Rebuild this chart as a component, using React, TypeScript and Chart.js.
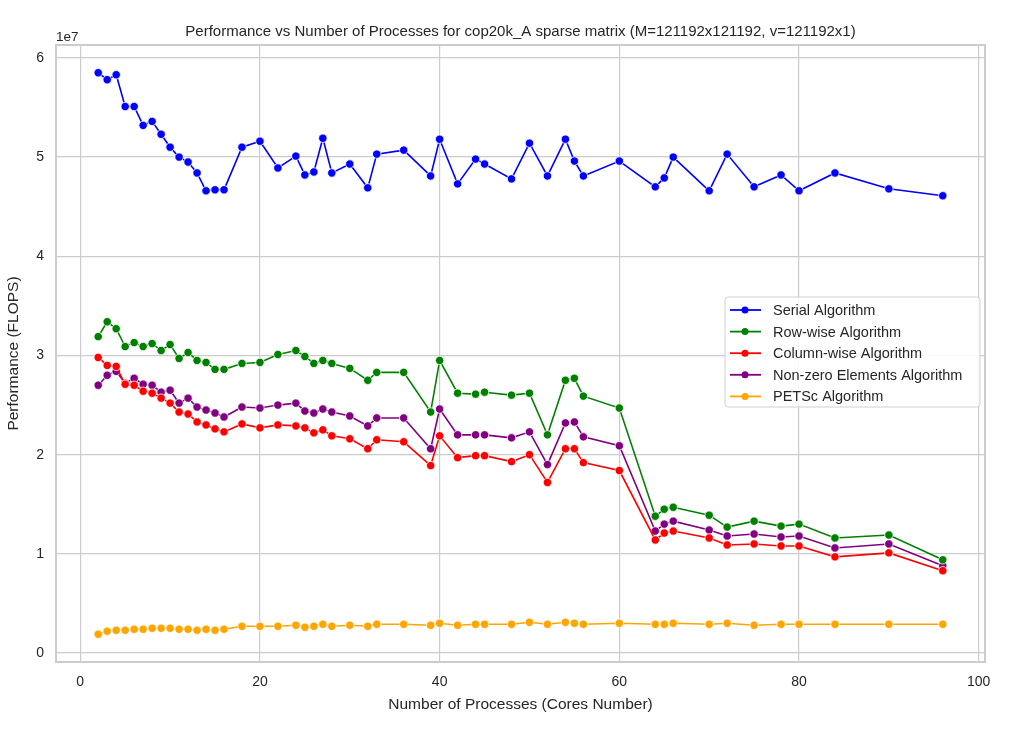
import { useEffect, useRef } from 'react'
import Chart from 'chart.js/auto'

const processes = [2, 3, 4, 5, 6, 7, 8, 9, 10, 11, 12, 13, 14, 15, 16, 18, 20, 22, 24, 25, 26, 27, 28, 30, 32, 33, 36, 39, 40, 42, 44, 45, 48, 50, 52, 54, 55, 56, 60, 64, 65, 66, 70, 72, 75, 78, 80, 84, 90, 96]

// values in units of 1e7 FLOPS
const serial = [5.85, 5.78, 5.83, 5.51, 5.51, 5.32, 5.36, 5.23, 5.10, 5.00, 4.95, 4.84, 4.66, 4.67, 4.67, 5.10, 5.16, 4.89, 5.01, 4.82, 4.85, 5.19, 4.84, 4.93, 4.69, 5.03, 5.07, 4.81, 5.18, 4.73, 4.98, 4.93, 4.78, 5.14, 4.81, 5.18, 4.96, 4.81, 4.96, 4.70, 4.79, 5.00, 4.66, 5.03, 4.70, 4.82, 4.66, 4.84, 4.68, 4.61]
const rowWise = [3.19, 3.34, 3.27, 3.09, 3.13, 3.09, 3.12, 3.05, 3.11, 2.97, 3.03, 2.95, 2.93, 2.86, 2.86, 2.92, 2.93, 3.01, 3.05, 2.99, 2.92, 2.95, 2.92, 2.87, 2.75, 2.83, 2.83, 2.43, 2.95, 2.62, 2.61, 2.63, 2.60, 2.62, 2.20, 2.75, 2.77, 2.59, 2.47, 1.38, 1.45, 1.47, 1.39, 1.27, 1.33, 1.28, 1.30, 1.16, 1.19, 0.94]
const columnWise = [2.98, 2.90, 2.89, 2.71, 2.70, 2.64, 2.62, 2.57, 2.52, 2.43, 2.41, 2.33, 2.30, 2.26, 2.23, 2.31, 2.27, 2.30, 2.29, 2.27, 2.22, 2.25, 2.19, 2.16, 2.06, 2.15, 2.13, 1.89, 2.19, 1.97, 1.99, 1.99, 1.93, 2.00, 1.72, 2.06, 2.06, 1.92, 1.84, 1.14, 1.21, 1.23, 1.16, 1.09, 1.10, 1.08, 1.08, 0.97, 1.01, 0.83]
const nonZero = [2.70, 2.80, 2.84, 2.72, 2.77, 2.71, 2.70, 2.63, 2.65, 2.52, 2.57, 2.48, 2.45, 2.42, 2.38, 2.48, 2.47, 2.50, 2.52, 2.44, 2.42, 2.46, 2.43, 2.39, 2.29, 2.37, 2.37, 2.06, 2.46, 2.20, 2.20, 2.20, 2.17, 2.23, 1.90, 2.32, 2.33, 2.18, 2.09, 1.23, 1.30, 1.33, 1.24, 1.18, 1.20, 1.17, 1.18, 1.06, 1.10, 0.88]
const petsc = [0.19, 0.22, 0.23, 0.23, 0.24, 0.24, 0.25, 0.25, 0.25, 0.24, 0.24, 0.23, 0.24, 0.23, 0.24, 0.27, 0.27, 0.27, 0.28, 0.26, 0.27, 0.29, 0.27, 0.28, 0.27, 0.29, 0.29, 0.28, 0.30, 0.28, 0.29, 0.29, 0.29, 0.31, 0.29, 0.31, 0.30, 0.29, 0.30, 0.29, 0.29, 0.30, 0.29, 0.30, 0.28, 0.29, 0.29, 0.29, 0.29, 0.29]

const seriesNames = ['Serial Algorithm', 'Row-wise Algorithm', 'Column-wise Algorithm', 'Non-zero Elements Algorithm', 'PETSc Algorithm']
const seriesColors = ['blue', 'green', 'red', 'purple', 'orange']
const seriesValues = [serial, rowWise, columnWise, nonZero, petsc]
const xTicks = [0, 20, 40, 60, 80, 100]
const yTicks = [0, 1, 2, 3, 4, 5, 6]

const FONT = 'Arial, "Liberation Sans", sans-serif'

const overlay = {
  id: 'overlay',
  afterDraw(chart: any) {
    const { ctx, chartArea } = chart
    ctx.save()
    // frame
    ctx.strokeStyle = '#cccccc'
    ctx.lineWidth = 2
    ctx.strokeRect(chartArea.left, chartArea.top, chartArea.right - chartArea.left, chartArea.bottom - chartArea.top)
    // title + exponent
    ctx.fillStyle = '#262626'
    ctx.font = `15px ${FONT}`
    ctx.textAlign = 'center'
    ctx.textBaseline = 'middle'
    ctx.fillText('Performance vs Number of Processes for cop20k_A sparse matrix (M=121192x121192, v=121192x1)', (chartArea.left + chartArea.right) / 2, 32)
    ctx.font = `13.5px ${FONT}`
    ctx.textAlign = 'left'
    ctx.fillText('1e7', chartArea.left, 37)
    // legend
    const lx = 725, ly = 297, lw = 255, lh = 110
    ctx.fillStyle = 'rgba(255,255,255,0.85)'
    ctx.strokeStyle = '#d0d0d0'
    ctx.lineWidth = 1
    ctx.beginPath()
    ctx.roundRect(lx, ly, lw, lh, 3)
    ctx.fill()
    ctx.stroke()
    seriesNames.forEach((name, i) => {
      const y = ly + 13 + i * 21.6
      ctx.strokeStyle = seriesColors[i]
      ctx.lineWidth = 1.8
      ctx.beginPath()
      ctx.moveTo(lx + 5, y)
      ctx.lineTo(lx + 36, y)
      ctx.stroke()
      ctx.fillStyle = seriesColors[i]
      ctx.beginPath()
      ctx.arc(lx + 20, y, 3.5, 0, Math.PI * 2)
      ctx.fill()
      ctx.fillStyle = '#262626'
      ctx.font = `14.5px ${FONT}`
      ctx.fillText(name, lx + 48, y + 1)
    })
    ctx.restore()
  },
}

export default function App() {
  const canvasRef = useRef<HTMLCanvasElement | null>(null)
  const chartRef = useRef<Chart | null>(null)

  useEffect(() => {
    document.body.style.margin = '0'
    if (!canvasRef.current) return
    chartRef.current = new Chart(canvasRef.current, {
      type: 'line',
      data: {
        datasets: seriesValues.map((vals, i) => ({
          label: seriesNames[i],
          data: processes.map((x, j) => ({ x, y: vals[j] * 1e7 })),
          borderColor: seriesColors[i],
          backgroundColor: seriesColors[i],
          borderWidth: 1.6,
          pointRadius: 4.2,
          pointBorderColor: '#ffffff',
          pointBorderWidth: 0.8,
          tension: 0,
        })),
      },
      options: {
        animation: false,
        responsive: false,
        layout: { padding: { top: 45, right: 28, left: 0, bottom: 12 } },
        plugins: { legend: { display: false }, title: { display: false }, tooltip: { enabled: false } },
        scales: {
          x: {
            type: 'linear',
            min: -2.7,
            max: 100.7,
            afterFit: (s: any) => { s.height = 56 },
            afterBuildTicks: (s: any) => { s.ticks = xTicks.map((v) => ({ value: v })) },
            grid: { color: '#cccccc', lineWidth: 1.2, drawTicks: false },
            border: { display: false },
            ticks: { color: '#262626', font: { size: 14, family: FONT }, padding: 12 },
            title: { display: true, text: 'Number of Processes (Cores Number)', color: '#262626', font: { size: 15.5, family: FONT }, padding: { top: 2 } },
          },
          y: {
            min: -0.09e7,
            max: 6.13e7,
            afterFit: (s: any) => { s.width = 56 },
            afterBuildTicks: (s: any) => { s.ticks = yTicks.map((v) => ({ value: v * 1e7 })) },
            grid: { color: '#cccccc', lineWidth: 1.2, drawTicks: false },
            border: { display: false },
            ticks: { color: '#262626', font: { size: 14, family: FONT }, padding: 12, callback: (v: any) => String(Math.round(Number(v) / 1e7)) },
            title: { display: true, text: 'Performance (FLOPS)', color: '#262626', font: { size: 15.5, family: FONT }, padding: { bottom: 0 } },
          },
        },
      },
      plugins: [overlay],
    })
    return () => {
      chartRef.current?.destroy()
      chartRef.current = null
    }
  }, [])

  return <canvas ref={canvasRef} width={1013} height={730} style={{ display: 'block' }} />
}
